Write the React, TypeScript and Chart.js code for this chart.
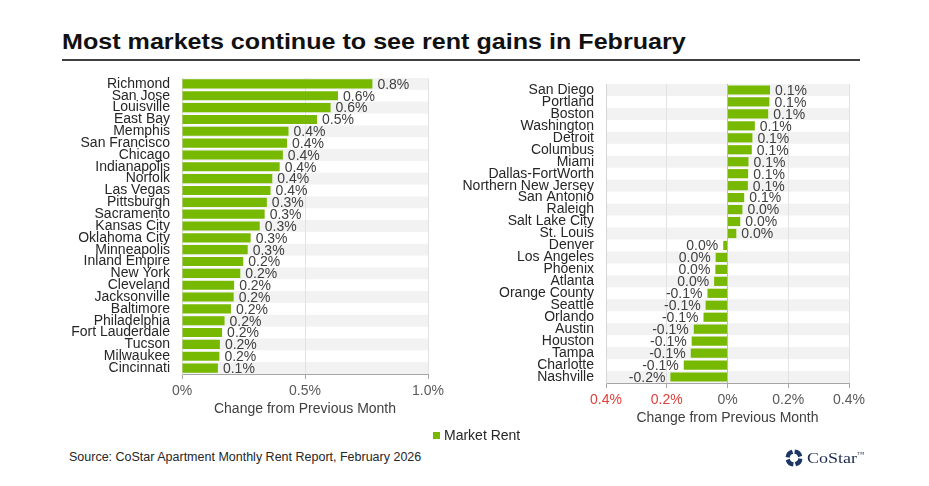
import React, { useEffect, useRef } from "react";
import { Chart, registerables } from "chart.js";

Chart.register(...registerables);

const titleText = "Most markets continue to see rent gains in February";
const seriesName = "Market Rent";
const axisTitle = "Change from Previous Month";
const sourceText = "Source: CoStar Apartment Monthly Rent Report, February 2026";

const leftCategories = [
  "Richmond", "San Jose", "Louisville", "East Bay", "Memphis", "San Francisco",
  "Chicago", "Indianapolis", "Norfolk", "Las Vegas", "Pittsburgh", "Sacramento",
  "Kansas City", "Oklahoma City", "Minneapolis", "Inland Empire", "New York",
  "Cleveland", "Jacksonville", "Baltimore", "Philadelphia", "Fort Lauderdale",
  "Tucson", "Milwaukee", "Cincinnati",
];
const leftValues = [
  0.774, 0.634, 0.604, 0.549, 0.433, 0.427, 0.41, 0.397, 0.367, 0.36, 0.345,
  0.336, 0.316, 0.279, 0.267, 0.249, 0.237, 0.212, 0.21, 0.199, 0.173, 0.163,
  0.154, 0.152, 0.146,
];

const rightCategories = [
  "San Diego", "Portland", "Boston", "Washington", "Detroit", "Columbus", "Miami",
  "Dallas-FortWorth", "Northern New Jersey", "San Antonio", "Raleigh",
  "Salt Lake City", "St. Louis", "Denver", "Los Angeles", "Phoenix", "Atlanta",
  "Orange County", "Seattle", "Orlando", "Austin", "Houston", "Tampa",
  "Charlotte", "Nashville",
];
const rightValues = [
  0.14, 0.138, 0.134, 0.09, 0.082, 0.08, 0.069, 0.068, 0.067, 0.055, 0.049,
  0.042, 0.029, -0.014, -0.039, -0.04, -0.044, -0.066, -0.072, -0.079, -0.111,
  -0.118, -0.121, -0.144, -0.188,
];

const leftAxis = { min: 0, max: 1.0, step: 0.5 };
const rightAxis = { min: -0.4, max: 0.4, step: 0.2 };

const GREEN = "#76b900";
const RED = "#e0403a";
const FONT = "'Liberation Sans', Arial, Helvetica, sans-serif";

Chart.defaults.font.family = FONT;

function fmtValue(v: number): string {
  const r = Math.round(v * 10) / 10;
  if (r === 0) return "0.0%";
  return r.toFixed(1) + "%";
}

function fmtTick(v: number): string {
  const a = Math.abs(v);
  if (a < 1e-9) return "0%";
  return a.toFixed(1) + "%";
}

const bandsPlugin = {
  id: "bands",
  beforeDraw(chart: any) {
    const { ctx, chartArea } = chart;
    const y = chart.scales.y;
    const n = chart.data.labels.length;
    if (!y || n < 2) return;
    const step = Math.abs(y.getPixelForValue(1) - y.getPixelForValue(0));
    ctx.save();
    ctx.fillStyle = "#f2f2f2";
    for (let i = 0; i < n; i += 2) {
      const c = y.getPixelForValue(i);
      ctx.fillRect(chartArea.left, c - step / 2, chartArea.right - chartArea.left, step);
    }
    ctx.restore();
  },
};

const valueLabelsPlugin = {
  id: "valueLabels",
  afterDatasetsDraw(chart: any) {
    const { ctx } = chart;
    const meta = chart.getDatasetMeta(0);
    const data = chart.data.datasets[0].data as number[];
    ctx.save();
    ctx.font = `14px ${FONT}`;
    ctx.fillStyle = "#404040";
    ctx.textBaseline = "middle";
    meta.data.forEach((bar: any, i: number) => {
      const v = data[i];
      const t = fmtValue(v);
      if (v >= 0) {
        ctx.textAlign = "left";
        ctx.fillText(t, bar.x + 5, bar.y + 1);
      } else {
        ctx.textAlign = "right";
        ctx.fillText(t, bar.x - 5, bar.y + 1);
      }
    });
    ctx.restore();
  },
};

function makeConfig(
  labels: string[],
  values: number[],
  axis: { min: number; max: number; step: number },
  yWidth: number,
  xHeight: number
): any {
  return {
    type: "bar",
    data: {
      labels,
      datasets: [
        {
          label: seriesName,
          data: values,
          backgroundColor: GREEN,
          borderWidth: 0,
          barPercentage: 0.77,
          categoryPercentage: 1,
        },
      ],
    },
    plugins: [bandsPlugin, valueLabelsPlugin],
    options: {
      indexAxis: "y",
      animation: false,
      responsive: true,
      maintainAspectRatio: false,
      layout: { padding: { top: 8, right: 22, left: 0, bottom: 0 } },
      plugins: {
        legend: { display: false },
        tooltip: { enabled: false },
        title: { display: false },
      },
      scales: {
        x: {
          type: "linear",
          min: axis.min,
          max: axis.max,
          ticks: {
            stepSize: axis.step,
            autoSkip: false,
            callback: (v: any) => fmtTick(Number(v)),
            font: { size: 14, family: FONT },
            color: (c: any) => (c.tick && c.tick.value < -1e-9 ? RED : "#595959"),
            padding: 4,
            maxRotation: 0,
          },
          grid: {
            color: (c: any) =>
              c.tick && Math.abs(c.tick.value) < 1e-9 ? "#bdbdbd" : "#e2e2e2",
            tickColor: "#a6a6a6",
            tickLength: 5,
            drawTicks: true,
          },
          border: { display: true, color: "#a6a6a6", width: 1 },
          title: {
            display: true,
            text: axisTitle,
            font: { size: 14, family: FONT },
            color: "#404040",
            padding: { top: 0, bottom: 2 },
          },
          afterFit: (s: any) => {
            s.height = xHeight;
            s.paddingLeft = 0;
            s.paddingRight = 0;
          },
        },
        y: {
          type: "category",
          ticks: {
            autoSkip: false,
            font: { size: 14, family: FONT },
            color: "#262626",
            padding: 12,
          },
          grid: { display: false, drawTicks: false },
          border: { display: true, color: "#d6d6d6", width: 1 },
          afterFit: (s: any) => {
            s.width = yWidth;
            s.paddingTop = 0;
            s.paddingBottom = 0;
          },
        },
      },
    },
  };
}

function BarPanel(props: {
  labels: string[];
  values: number[];
  axis: { min: number; max: number; step: number };
  yWidth: number;
  xHeight: number;
  style: React.CSSProperties;
}) {
  const ref = useRef<HTMLCanvasElement | null>(null);
  useEffect(() => {
    if (!ref.current) return;
    const chart = new Chart(
      ref.current,
      makeConfig(props.labels, props.values, props.axis, props.yWidth, props.xHeight)
    );
    return () => chart.destroy();
  }, []);
  return (
    <div style={{ position: "absolute", ...props.style }}>
      <canvas ref={ref} />
    </div>
  );
}

function Logo() {
  const blades = [0, 90, 180, 270];
  return (
    <div style={{ position: "absolute", left: 785, top: 449, height: 18, display: "flex", alignItems: "center" }}>
      <svg width={18} height={18} viewBox="0 0 20 20">
        {blades.map((r) => (
          <path
            key={r}
            d="M11 0.6 A9.4 9.4 0 0 1 19.2 7.6 L14.6 9.2 A4.8 4.8 0 0 0 10.4 5.2 Z"
            fill="#1b3566"
            transform={`rotate(${r} 10 10)`}
          />
        ))}
      </svg>
      <span
        style={{
          marginLeft: 4,
          fontFamily: "'Liberation Serif', 'Times New Roman', serif",
          fontSize: 15,
          color: "#1b2a4e",
          display: "inline-block",
          transform: "scaleX(1.2)",
          transformOrigin: "left center",
          lineHeight: "18px",
          whiteSpace: "nowrap",
        }}
      >
        CoStar
        <span style={{ fontSize: 6, verticalAlign: "top", lineHeight: "10px" }}>™</span>
      </span>
    </div>
  );
}

export default function App() {
  return (
    <div
      style={{
        position: "absolute",
        left: 0,
        top: 0,
        width: 929,
        height: 486,
        background: "#ffffff",
        overflow: "hidden",
        fontFamily: FONT,
      }}
    >
      <div
        style={{
          position: "absolute",
          left: 62,
          top: 29,
          fontSize: 21.5,
          fontWeight: "bold",
          lineHeight: "26px",
          color: "#111111",
          whiteSpace: "nowrap",
          transform: "scaleX(1.168)",
          transformOrigin: "left center",
        }}
      >
        {titleText}
      </div>
      <div style={{ position: "absolute", left: 62, top: 59, width: 798, height: 2, background: "#404040" }} />

      <BarPanel
        labels={leftCategories}
        values={leftValues}
        axis={leftAxis}
        yWidth={122}
        xHeight={46}
        style={{ left: 60, top: 70, width: 390, height: 350 }}
      />
      <BarPanel
        labels={rightCategories}
        values={rightValues}
        axis={rightAxis}
        yWidth={156}
        xHeight={46}
        style={{ left: 450, top: 76, width: 421, height: 353 }}
      />

      <div
        style={{
          position: "absolute",
          left: 433,
          top: 428,
          height: 14,
          display: "flex",
          alignItems: "center",
          fontSize: 14,
          color: "#262626",
          whiteSpace: "nowrap",
        }}
      >
        <span style={{ display: "inline-block", width: 7, height: 7, background: GREEN, marginRight: 4 }} />
        <span>{seriesName}</span>
      </div>

      <div
        style={{
          position: "absolute",
          left: 69,
          top: 450,
          fontSize: 12.5,
          lineHeight: "15px",
          color: "#262626",
          whiteSpace: "nowrap",
        }}
      >
        {sourceText}
      </div>

      <Logo />
    </div>
  );
}
